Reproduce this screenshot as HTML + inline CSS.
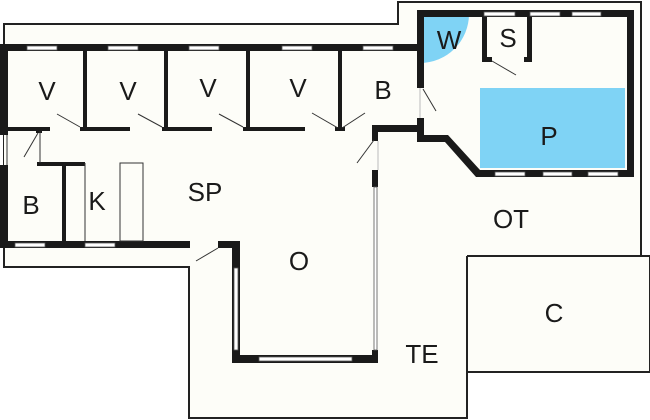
<!DOCTYPE html>
<html><head><meta charset="utf-8"><style>
html,body{margin:0;padding:0;background:#fff;}
svg{display:block}
text{font-family:"Liberation Sans",sans-serif;font-size:26px;fill:#1a1a1a;text-anchor:middle}
</style></head><body>
<svg width="650" height="420" viewBox="0 0 650 420" xmlns="http://www.w3.org/2000/svg">
<path d="M4,24 H398 V2 H641 V256 H650 V372 H467 V418 H189 V267 H4 Z" fill="#fdfdf8" stroke="#222" stroke-width="2"/>
<path d="M467,256 H650 M467,256 V372" fill="none" stroke="#222" stroke-width="2"/>
<rect x="4" y="47" width="418" height="196" fill="#fdfdf8"/>
<path d="M420,14 H469 A49,49 0 0 1 420,63 Z" fill="#7fd3f5"/>
<rect x="480" y="88" width="145" height="80" fill="#7fd3f5"/>
<g fill="#1a1a1a">
<rect x="0" y="44" width="424" height="7"/>
<rect x="0" y="44" width="8" height="91"/>
<rect x="0" y="165" width="8" height="83"/>
<rect x="7" y="127" width="43" height="4"/>
<rect x="80" y="127" width="50" height="4"/>
<rect x="162" y="127" width="50" height="4"/>
<rect x="243" y="127" width="62" height="4"/>
<rect x="335" y="127" width="10" height="4"/>
<rect x="36" y="127" width="6" height="6"/>
<rect x="83" y="48" width="4" height="82"/>
<rect x="164" y="48" width="4" height="82"/>
<rect x="246" y="48" width="4" height="82"/>
<rect x="338" y="48" width="4" height="82"/>
<rect x="372" y="125" width="52" height="7"/>
<rect x="372" y="125" width="6" height="16"/>
<rect x="372" y="170" width="6" height="17"/>
<rect x="372" y="350" width="6" height="13"/>
<rect x="417" y="10" width="217" height="7"/>
<rect x="417" y="10" width="7" height="78"/>
<rect x="417" y="118" width="7" height="24"/>
<rect x="627" y="10" width="7" height="167"/>
<rect x="478" y="170" width="156" height="7"/>
<path d="M417,135 H448 L480,170 V177 H476 L445,142 H417 Z"/>
<rect x="482" y="14" width="5" height="48"/>
<rect x="527" y="14" width="5" height="48"/>
<rect x="482" y="57" width="10" height="5"/>
<rect x="524" y="57" width="8" height="5"/>
<rect x="37" y="162" width="48" height="4"/>
<rect x="62" y="162" width="4" height="82"/>
<rect x="0" y="241" width="190" height="7"/>
<rect x="218" y="241" width="22" height="7"/>
<rect x="232" y="241" width="8" height="122"/>
<rect x="232" y="355" width="146" height="8"/>
</g>
<g fill="#fff" stroke="#555" stroke-width="0.8">
<rect x="27" y="46" width="30" height="4"/>
<rect x="108" y="46" width="30" height="4"/>
<rect x="189" y="46" width="30" height="4"/>
<rect x="282" y="46" width="30" height="4"/>
<rect x="363" y="46" width="30" height="4"/>
<rect x="484" y="12" width="31" height="4"/>
<rect x="530" y="12" width="30" height="4"/>
<rect x="572" y="12" width="29" height="4"/>
<rect x="495" y="172" width="30" height="4"/>
<rect x="543" y="172" width="29" height="4"/>
<rect x="588" y="172" width="30" height="4"/>
<rect x="15" y="243" width="30" height="4"/>
<rect x="85" y="243" width="30" height="4"/>
<rect x="234" y="268" width="4" height="82"/>
<rect x="259" y="357" width="93" height="4"/>
<rect x="374" y="187" width="3" height="163"/>
</g>
<g stroke="#333" stroke-width="1" fill="none">
<rect x="120" y="163" width="23" height="78"/>
<line x1="85" y1="163" x2="85" y2="241"/>
<line x1="40" y1="131" x2="40" y2="163"/>
<line x1="7" y1="135" x2="7" y2="165"/>
<line x1="420" y1="88" x2="420" y2="118" stroke="#bbb"/>
<line x1="378" y1="141" x2="378" y2="170" stroke="#bbb"/>
<line x1="57" y1="114" x2="80" y2="127"/>
<line x1="138" y1="114" x2="162" y2="127"/>
<line x1="219" y1="114" x2="243" y2="127"/>
<line x1="312" y1="113" x2="338" y2="128"/>
<line x1="365" y1="113" x2="342" y2="128"/>
<line x1="38" y1="133" x2="24" y2="157"/>
<line x1="374" y1="140" x2="357" y2="163"/>
<line x1="423" y1="89" x2="436" y2="111"/>
<line x1="492" y1="61" x2="516" y2="75"/>
<line x1="218" y1="248" x2="196" y2="261"/>
</g>
<text x="47" y="100">V</text>
<text x="128" y="100">V</text>
<text x="208" y="97">V</text>
<text x="298" y="97">V</text>
<text x="383" y="99">B</text>
<text x="449" y="49" font-size="23">W</text>
<text x="508" y="47">S</text>
<text x="549" y="145">P</text>
<text x="31" y="214">B</text>
<text x="97" y="210">K</text>
<text x="205" y="201">SP</text>
<text x="299" y="270">O</text>
<text x="511" y="228">OT</text>
<text x="554" y="322">C</text>
<text x="422" y="363">TE</text>
</svg>
</body></html>
